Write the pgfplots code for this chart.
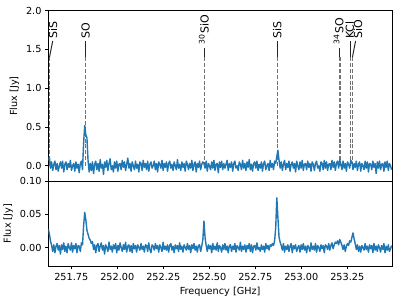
\documentclass[border=0pt]{standalone}
\usepackage{fontspec}
\setmainfont{DejaVu Sans}
\usepackage{pgfplots}
\pgfplotsset{compat=1.18}
\usepackage{pgfplotstable}
\definecolor{mplblue}{HTML}{1F77B4}

% channel spacing 0.006 GHz starting at 251.625 GHz
\pgfplotstableread[row sep=\\]{
y\\
0.07\\0.11\\-0.03\\0.05\\-0.06\\0.02\\0.06\\-0.05\\0.03\\-0.07\\0.00\\0.05\\
-0.03\\0.06\\-0.08\\0.02\\0.05\\-0.05\\0.03\\-0.02\\0.07\\-0.06\\0.00\\0.03\\
-0.07\\0.05\\-0.03\\0.02\\-0.09\\0.03\\0.06\\-0.05\\0.30\\0.52\\0.40\\0.36\\
0.07\\-0.08\\0.03\\-0.06\\0.05\\-0.10\\0.02\\0.06\\-0.05\\0.03\\-0.07\\0.08\\
-0.03\\0.02\\-0.11\\0.05\\-0.02\\0.07\\-0.06\\0.03\\0.09\\-0.05\\0.00\\-0.08\\
0.05\\-0.03\\0.06\\-0.07\\0.02\\0.03\\-0.05\\0.07\\-0.02\\0.05\\-0.06\\0.02\\
0.10\\-0.03\\0.03\\-0.07\\0.05\\0.00\\-0.05\\0.06\\-0.03\\0.02\\-0.08\\0.05\\
0.03\\-0.06\\0.07\\-0.02\\0.03\\-0.05\\0.06\\-0.07\\0.02\\0.05\\-0.03\\0.00\\
0.06\\-0.05\\0.03\\-0.08\\0.05\\0.02\\-0.03\\0.07\\-0.06\\0.03\\-0.02\\0.05\\
-0.07\\0.03\\0.06\\-0.03\\0.02\\-0.06\\0.05\\0.00\\-0.05\\0.08\\-0.03\\0.02\\
-0.06\\0.05\\-0.02\\0.03\\-0.07\\0.06\\0.02\\-0.05\\0.03\\-0.03\\0.07\\-0.06\\
0.02\\0.05\\-0.08\\0.03\\-0.02\\0.06\\-0.05\\0.02\\0.05\\0.03\\-0.03\\0.06\\
-0.07\\0.03\\0.00\\-0.05\\0.05\\-0.03\\0.07\\-0.06\\0.02\\0.03\\-0.09\\0.05\\
-0.02\\0.06\\-0.05\\0.03\\-0.03\\0.02\\0.07\\-0.06\\0.03\\-0.02\\0.05\\-0.07\\
0.03\\0.06\\-0.03\\0.00\\-0.06\\0.05\\0.02\\-0.05\\0.07\\-0.03\\0.03\\-0.06\\
0.05\\-0.02\\0.08\\-0.05\\0.02\\-0.07\\0.03\\0.05\\-0.03\\0.06\\-0.06\\0.02\\
-0.03\\0.05\\-0.07\\0.03\\0.06\\-0.05\\0.00\\0.03\\-0.06\\0.07\\-0.02\\0.03\\
-0.05\\0.06\\0.03\\0.12\\0.20\\0.07\\-0.03\\0.05\\-0.06\\0.02\\0.07\\-0.05\\
0.03\\-0.02\\0.06\\-0.07\\0.02\\0.05\\-0.03\\0.03\\-0.08\\0.06\\0.00\\-0.05\\
0.05\\-0.03\\0.07\\-0.06\\0.02\\0.03\\-0.05\\0.06\\-0.02\\0.03\\-0.07\\0.05\\
0.02\\-0.06\\0.03\\0.06\\-0.03\\0.00\\-0.07\\0.05\\0.03\\-0.05\\0.07\\-0.03\\
0.05\\-0.06\\0.02\\0.03\\-0.05\\0.07\\-0.02\\0.05\\-0.06\\0.03\\0.06\\-0.03\\
0.08\\0.02\\-0.05\\0.06\\-0.03\\0.03\\-0.07\\0.05\\0.02\\-0.03\\0.07\\0.05\\
-0.05\\0.03\\-0.02\\0.06\\-0.06\\0.02\\0.05\\-0.07\\0.03\\0.00\\-0.05\\0.06\\
-0.03\\0.05\\-0.08\\0.03\\0.02\\-0.05\\0.06\\-0.02\\0.03\\-0.10\\0.05\\-0.03\\
0.06\\-0.05\\0.02\\0.03\\-0.07\\0.05\\-0.02\\0.06\\-0.06\\0.03\\0.00\\-0.05\\
}\toptable

\pgfplotstableread[row sep=\\]{
y\\
0.028\\0.020\\0.010\\0.003\\-0.006\\0.004\\-0.008\\0.002\\0.006\\-0.004\\0.003\\-0.010\\
0.004\\-0.003\\0.007\\-0.006\\0.002\\-0.008\\0.006\\0.000\\-0.004\\0.007\\-0.007\\0.003\\
-0.002\\0.006\\-0.008\\0.003\\0.002\\-0.006\\0.007\\0.004\\0.033\\0.053\\0.042\\0.026\\
0.020\\0.014\\0.011\\0.006\\0.009\\-0.003\\0.004\\-0.008\\0.003\\0.006\\-0.006\\0.002\\
0.007\\-0.004\\0.003\\-0.010\\0.004\\0.000\\-0.006\\0.008\\-0.003\\0.002\\-0.007\\0.004\\
-0.002\\0.006\\-0.008\\0.003\\-0.004\\0.007\\0.000\\-0.006\\0.004\\-0.003\\0.008\\-0.007\\
0.002\\0.004\\-0.006\\0.003\\-0.008\\0.006\\-0.002\\0.003\\-0.007\\0.004\\0.000\\-0.004\\
0.006\\-0.003\\0.002\\-0.007\\0.004\\0.003\\-0.006\\0.007\\-0.003\\-0.008\\0.004\\0.002\\
-0.004\\0.006\\-0.002\\0.003\\-0.007\\0.004\\0.000\\-0.006\\0.008\\-0.003\\0.002\\-0.004\\
0.004\\-0.007\\0.003\\0.006\\-0.004\\0.002\\-0.008\\0.004\\-0.002\\0.003\\-0.006\\0.007\\
-0.003\\0.002\\-0.007\\0.004\\0.000\\-0.004\\0.006\\-0.003\\0.003\\-0.008\\0.004\\-0.002\\
0.006\\-0.004\\0.002\\-0.007\\0.003\\0.004\\-0.006\\0.002\\0.012\\0.040\\0.015\\0.003\\
-0.006\\0.004\\-0.002\\0.003\\-0.008\\0.006\\-0.003\\0.002\\-0.004\\0.007\\-0.006\\0.003\\
0.000\\-0.007\\0.004\\-0.003\\0.006\\-0.004\\0.002\\-0.008\\0.003\\0.004\\-0.006\\0.002\\
-0.003\\0.006\\-0.007\\0.003\\0.000\\-0.004\\0.008\\-0.006\\0.002\\-0.003\\0.004\\-0.007\\
0.003\\-0.002\\0.006\\-0.006\\0.004\\-0.008\\0.002\\0.003\\-0.004\\0.007\\-0.003\\0.000\\
-0.006\\0.004\\-0.003\\0.002\\-0.007\\0.006\\-0.002\\0.003\\-0.004\\0.004\\0.002\\0.006\\
0.003\\0.010\\0.030\\0.075\\0.045\\0.016\\0.008\\0.003\\-0.004\\0.006\\-0.007\\0.002\\
-0.003\\0.004\\-0.006\\0.002\\0.006\\-0.008\\0.003\\-0.002\\0.004\\-0.006\\0.000\\0.003\\
-0.007\\0.004\\-0.003\\0.006\\-0.004\\0.002\\-0.008\\0.003\\0.000\\-0.006\\0.007\\-0.003\\
0.002\\-0.004\\0.006\\-0.007\\0.003\\0.000\\-0.006\\0.004\\-0.002\\0.003\\-0.008\\0.004\\
0.002\\-0.003\\0.006\\-0.004\\0.003\\0.007\\-0.002\\0.004\\0.008\\0.006\\0.010\\0.004\\
0.012\\0.008\\0.003\\-0.003\\0.004\\-0.006\\0.002\\0.006\\0.003\\0.010\\0.008\\0.015\\
0.022\\0.013\\0.006\\-0.003\\0.004\\-0.006\\0.002\\-0.007\\0.003\\0.000\\-0.004\\0.006\\
-0.003\\0.002\\-0.007\\0.004\\-0.002\\0.003\\-0.008\\0.006\\-0.004\\0.002\\-0.006\\0.004\\
0.000\\-0.007\\0.003\\-0.003\\0.006\\-0.008\\0.002\\-0.004\\0.004\\-0.006\\-0.002\\0.003\\
}\bottable

\pgfplotsset{
  spec/.style={
    width=343.7pt, scale only axis,
    xmin=251.625, xmax=253.493,
    tick align=outside, major tick length=3.3pt,
    every tick/.style={black, line width=0.76pt},
    axis line style={line width=0.76pt},
    tick label style={font=\fontsize{9.7}{11}\selectfont},
    label style={font=\fontsize{9.7}{11}\selectfont},
    /pgf/number format/assume math mode=true,
    ytick pos=left, xtick pos=bottom,
  },
}
\tikzset{
  dline/.style={draw=black!55, dash pattern=on 4pt off 1.8pt, line width=1.2pt},
  sline/.style={draw=black!85, line width=1pt},
  lab/.style={rotate=90, anchor=west, inner sep=0pt, font=\fontsize{11}{13}\selectfont},
}

\begin{document}
\begin{tikzpicture}
\useasboundingbox (-48.3pt,10.7pt) rectangle (350.7pt,-292.3pt);
\begin{axis}[spec, name=top, at={(0pt,0pt)}, anchor=north west,
    height=170.6pt, ymin=-0.2, ymax=2.0,
    ytick={0,0.5,1,1.5,2},
    yticklabel style={/pgf/number format/.cd, fixed, fixed zerofill, precision=1},
    xtick=\empty,
    ylabel={Flux [Jy]}]
  % line markers
  \draw[dline] (axis cs:251.6315,0) -- (axis cs:251.6315,1.40);
  \draw[sline] (axis cs:251.6315,1.40) -- (axis cs:251.649,1.61);
  \node[lab] at (axis cs:251.651,1.635) {SiS};
  \draw[dline] (axis cs:251.828,0) -- (axis cs:251.828,1.40);
  \draw[sline] (axis cs:251.828,1.40) -- (axis cs:251.828,1.61);
  \node[lab] at (axis cs:251.828,1.635) {SO};
  \draw[dline] (axis cs:252.473,0) -- (axis cs:252.473,1.40);
  \draw[sline] (axis cs:252.473,1.40) -- (axis cs:252.473,1.52);
  \node[lab] at (axis cs:252.470,1.565) {\textsuperscript{30}SiO};
  \draw[dline] (axis cs:252.870,0) -- (axis cs:252.870,1.40);
  \draw[sline] (axis cs:252.870,1.40) -- (axis cs:252.870,1.61);
  \node[lab] at (axis cs:252.870,1.635) {SiS};
  \draw[dline] (axis cs:253.210,0) -- (axis cs:253.210,1.40);
  \draw[sline] (axis cs:253.210,1.40) -- (axis cs:253.210,1.52);
  \node[lab] at (axis cs:253.203,1.565) {\textsuperscript{34}SO};
  \draw[dline] (axis cs:253.266,0) -- (axis cs:253.266,1.40);
  \draw[sline] (axis cs:253.266,1.40) -- (axis cs:253.266,1.61);
  \node[lab] at (axis cs:253.264,1.635) {KCl};
  \draw[dline] (axis cs:253.278,0) -- (axis cs:253.278,1.40);
  \draw[sline] (axis cs:253.278,1.40) -- (axis cs:253.295,1.61);
  \node[lab] at (axis cs:253.308,1.635) {SiO};
  \addplot[mplblue, line width=1.4pt, line join=round] table[x expr=251.625+0.006*\coordindex, y=y] {\toptable};
\end{axis}
\begin{axis}[spec, name=bot, at={(0pt,-170.6pt)}, anchor=north west,
    height=84.7pt, ymin=-0.028, ymax=0.10,
    ytick={0,0.05,0.1},
    yticklabel style={/pgf/number format/.cd, fixed, fixed zerofill, precision=2},
    xtick={251.75,252,252.25,252.5,252.75,253,253.25},
    xticklabel style={/pgf/number format/.cd, fixed, fixed zerofill, precision=2, 1000 sep={}},
    xlabel={Frequency [GHz]},
    ylabel={Flux [Jy]}]
  \addplot[mplblue, line width=1.4pt, line join=round] table[x expr=251.625+0.006*\coordindex, y=y] {\bottable};
\end{axis}
\end{tikzpicture}
\end{document}
